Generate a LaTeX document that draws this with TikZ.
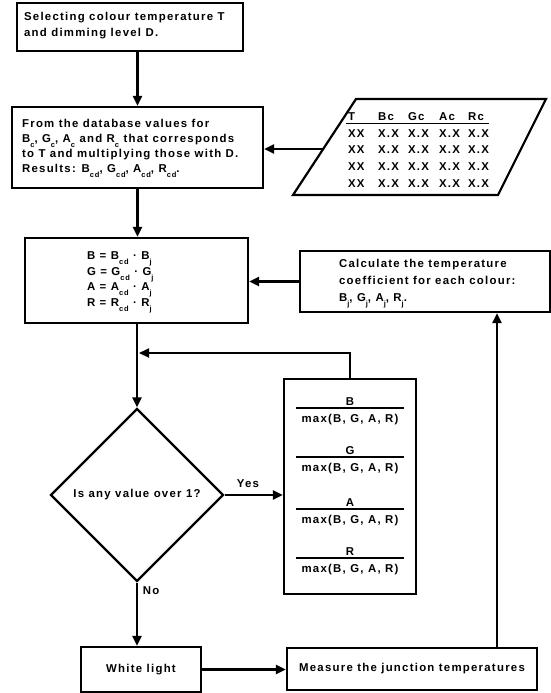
\documentclass[tikz,border=0pt]{standalone}
\usepackage{fontspec}
\setmainfont{Liberation Sans}[LetterSpace=11]
\usetikzlibrary{arrows.meta,shapes.geometric,calc}
\newcommand\lsub[1]{\raisebox{-5pt}[0pt][0pt]{\fontsize{7.5}{7.5}\selectfont #1}}
\begin{document}
\begin{tikzpicture}[x=1pt,y=-1pt,line width=2.2pt,
  font=\bfseries\fontsize{11.4}{15}\selectfont,
  box/.style={draw,rectangle,inner sep=0pt,align=left},
  txt/.style={anchor=west,inner sep=0pt,align=left},
  arr/.style={-{Triangle[length=10pt,width=9pt]}},
  fracrule/.style={line width=1.1pt}]
\useasboundingbox[fill=white] (0,0) rectangle (551,693);

% boxes
\node[box,minimum width=226pt,minimum height=48pt] (sel) at (130,27) {};
\node[txt,font=\bfseries\fontsize{11.4}{16}\selectfont] (selt) at (23,25.5)
  {Selecting colour temperature T\\and dimming level D.};
\node[box,minimum width=251pt,minimum height=81pt] (db) at (137.5,147.5) {};
\node[txt] (dbt) at (21,147)
  {From the database values for\\
   B\lsub{c}, G\lsub{c}, A\lsub{c} and R\lsub{c} that corresponds\\
   to T and multiplying those with D.\\
   Results: B\lsub{cd}, G\lsub{cd}, A\lsub{cd}, R\lsub{cd}.};
\node[box,minimum width=223pt,minimum height=85pt] (calc) at (136.5,280.5) {};
\node[txt,font=\bfseries\fontsize{11.4}{15.7}\selectfont] (calct) at (86,279)
  {B = B\lsub{cd} · B\lsub{j}\\G = G\lsub{cd} · G\lsub{j}\\A = A\lsub{cd} · A\lsub{j}\\R = R\lsub{cd} · R\lsub{j}};
\node[box,minimum width=250pt,minimum height=61pt] (coef) at (425,281.5) {};
\node[txt,font=\bfseries\fontsize{11.4}{17}\selectfont] (coeft) at (338,281)
  {Calculate the temperature\\coefficient for each colour:\\B\lsub{j}, G\lsub{j}, A\lsub{j}, R\lsub{j}.};
\node[diamond,draw,aspect=1,inner sep=0pt,minimum width=173pt,minimum height=173pt] (dec) at (137,495)
  {Is any value over 1?};
\node[draw,rectangle,minimum width=132pt,minimum height=215pt] (norm) at (350,486.5) {};
\node[box,minimum width=120pt,minimum height=45pt] (white) at (141,669.5) {White light};
\node[box,minimum width=250pt,minimum height=42pt] (meas) at (412,669) {Measure the junction temperatures};

% fractions
\foreach \i/\y/\c in {1/408/B,2/457/G,3/509/A,4/558/R}{
  \node[anchor=base,inner sep=0pt] (num\i) at (350,\y-2.5) {\c};
  \draw[fracrule] (296,\y) -- (404,\y);
  \node[anchor=base,inner sep=0pt] (den\i) at (350,\y+14.5) {max(B, G, A, R)};
}

% database table (parallelogram)
\coordinate (tl) at (356,99);
\coordinate (tr) at (546,99);
\coordinate (br) at (498,195);
\coordinate (bl) at (293,195);
\draw (tl) -- (tr) -- (br) -- (bl) -- cycle;
\node[anchor=base west,inner sep=0pt] (thead) at (347,120)
  {\begin{tabular}[t]{@{}p{30pt}@{}p{30pt}@{}p{31pt}@{}p{29pt}@{}l@{}}T & Bc & Gc & Ac & Rc\end{tabular}};
\draw[line width=1.2pt] (346,123.3) -- (489,123.3);
\node[anchor=base west,inner sep=0pt,font=\bfseries\fontsize{11.4}{16.67}\selectfont] (tdata) at (347,137)
  {\begin{tabular}[t]{@{}p{30pt}@{}p{30pt}@{}p{31pt}@{}p{29pt}@{}l@{}}
   XX & X.X & X.X & X.X & X.X\\
   XX & X.X & X.X & X.X & X.X\\
   XX & X.X & X.X & X.X & X.X\\
   XX & X.X & X.X & X.X & X.X
   \end{tabular}};
\coordinate (tin) at ($(bl)!0.479!(tl)$);

% labels
\node[inner sep=0pt] (yes) at (248,484) {Yes};
\node[inner sep=0pt] (no) at (151,591) {No};

% connectors
\coordinate (fbend) at (139,353);
\coordinate (upx) at (497,0);
\draw[arr] (sel.south -| db.north) -- (db.north);
\draw[arr] (tin) -- (tin -| db.east);
\draw[arr] (db.south) -- (db.south |- calc.north);
\draw[arr] (coef.west) -- (coef.west -| calc.east);
\draw[arr] (calc.south -| dec.north) -- (dec.north);
\draw[arr] (norm.north) |- (fbend);
\draw[arr] (dec.east) -- (dec.east -| norm.west);
\draw[arr] (dec.south) -- (dec.south |- white.north);
\draw[arr] (white.east) -- (white.east -| meas.west);
\draw[arr] (meas.north -| upx) -- (upx |- coef.south);
\end{tikzpicture}
\end{document}
